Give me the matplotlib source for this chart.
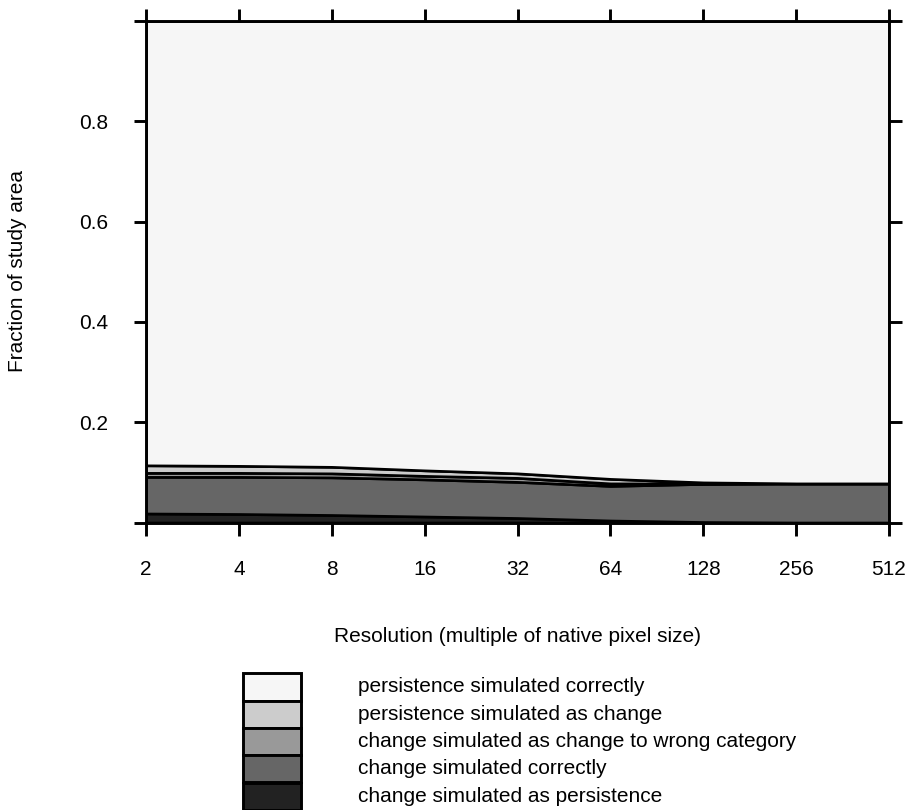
import matplotlib
matplotlib.use("Agg")
import matplotlib.pyplot as plt
from matplotlib.patches import Rectangle
import numpy as np

plt.rcParams['font.family'] = ['Liberation Sans', 'DejaVu Sans']

# resolution (multiple of native pixel size)
resolution = [2, 4, 8, 16, 32, 64, 128, 256, 512]

# fraction of study area per category (bottom to top of the stack)
change_as_persistence = [0.018, 0.017, 0.015, 0.012, 0.009, 0.004, 0.001, 0.0, 0.0]
change_correct = [0.073, 0.074, 0.075, 0.074, 0.072, 0.069, 0.076, 0.078, 0.078]
change_wrong_category = [0.008, 0.008, 0.008, 0.007, 0.008, 0.005, 0.001, 0.0, 0.0]
persistence_as_change = [0.015, 0.014, 0.013, 0.011, 0.009, 0.009, 0.002, 0.0, 0.0]
persistence_correct = [0.886, 0.887, 0.889, 0.896, 0.902, 0.913, 0.920, 0.922, 0.922]

labels = ['change simulated as persistence',
          'change simulated correctly',
          'change simulated as change to wrong category',
          'persistence simulated as change',
          'persistence simulated correctly']
colors = ['#222222', '#666666', '#999999', '#cccccc', '#f6f6f6']

W, H = 909, 810
fig = plt.figure(figsize=(W / 100, H / 100), dpi=100)
ax = fig.add_axes([146 / W, 1 - 522.5 / H, (889 - 146) / W, (522.5 - 21) / H])

layers = [change_as_persistence, change_correct, change_wrong_category,
          persistence_as_change, persistence_correct]
ax.stackplot(resolution, *layers, colors=colors, edgecolor='black', linewidth=1.9)

ax.set_xscale('log', base=2)
ax.set_xlim(2, 512)
ax.set_ylim(0, 1)
ax.set_xticks(resolution)
ax.set_xticklabels([str(r) for r in resolution])
ax.minorticks_off()
ax.set_yticks([0, 0.2, 0.4, 0.6, 0.8, 1.0])
ax.set_yticklabels(['', '0.2', '0.4', '0.6', '0.8', ''])
ax.tick_params(axis='both', which='major', direction='out', length=9, width=2.1,
               labelsize=15, pad=18, top=True, right=True)
for s in ax.spines.values():
    s.set_linewidth(2.1)

fig.text(517.5 / W, 1 - 636 / H, 'Resolution (multiple of native pixel size)',
         ha='center', va='center', fontsize=15)
fig.text(18 / W, 1 - 271.5 / H, 'Fraction of study area', rotation=90,
         ha='center', va='center', fontsize=15)

# key, drawn in pixel coordinates
lax = fig.add_axes([0, 0, 1, 1])
lax.set_xlim(0, W)
lax.set_ylim(H, 0)
lax.axis('off')
box_h = 27.3
for i, (lab, col) in enumerate(zip(labels[::-1], colors[::-1])):
    y0 = 673.3 + i * box_h
    lax.add_patch(Rectangle((242.7, y0), 58, box_h, facecolor=col,
                            edgecolor='black', linewidth=2.1))
    lax.text(358, y0 + box_h / 2, lab, ha='left', va='center', fontsize=15)

fig.savefig('out.png', dpi=100)
